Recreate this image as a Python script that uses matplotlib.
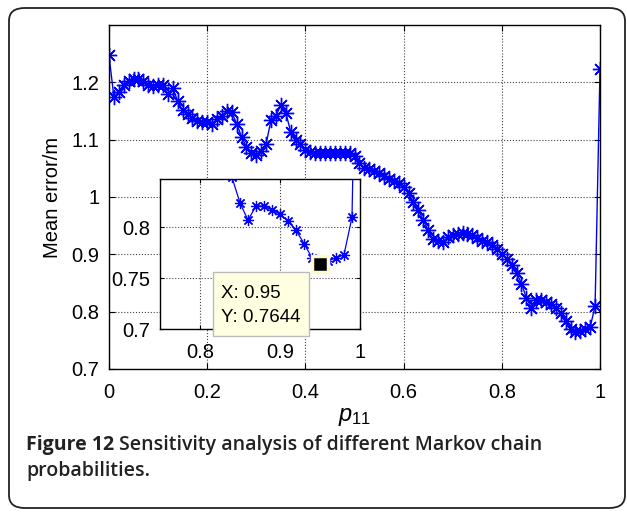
import matplotlib
matplotlib.use('Agg')
import matplotlib.pyplot as plt
from matplotlib.patches import FancyBboxPatch, Rectangle
import numpy as np

plt.rcParams['font.family'] = ['Liberation Sans', 'DejaVu Sans']
plt.rcParams['mathtext.fontset'] = 'custom'
plt.rcParams['mathtext.it'] = 'Liberation Sans:italic'
plt.rcParams['mathtext.rm'] = 'Liberation Sans'

# p11 values, step 0.01
p11 = np.round(np.arange(0, 101) * 0.01, 2)
# mean error
mean_error = [
    1.247, 1.174, 1.184, 1.196, 1.202, 1.205, 1.205, 1.202, 1.196, 1.194,
    1.195, 1.196, 1.179, 1.190, 1.167, 1.151, 1.144, 1.138, 1.132, 1.130,
    1.130, 1.128, 1.136, 1.142, 1.150, 1.148, 1.128, 1.105, 1.087, 1.076,
    1.074, 1.080, 1.093, 1.134, 1.141, 1.161, 1.147, 1.114, 1.099, 1.093,
    1.082, 1.078, 1.077, 1.077, 1.077, 1.077, 1.077, 1.077, 1.077, 1.076,
    1.071, 1.060, 1.051, 1.049, 1.045, 1.041, 1.036, 1.032, 1.028, 1.024,
    1.018, 1.007, 0.991, 0.977, 0.960, 0.942, 0.926, 0.924, 0.922, 0.930,
    0.934, 0.936, 0.937, 0.936, 0.934, 0.929, 0.924, 0.922, 0.917, 0.910,
    0.901, 0.892, 0.882, 0.868, 0.849, 0.824, 0.807, 0.821, 0.821, 0.817,
    0.813, 0.806, 0.797, 0.784, 0.770, 0.7644, 0.767, 0.770, 0.773, 0.810,
    1.223,
]

x_ticks = [0, 0.2, 0.4, 0.6, 0.8, 1]
x_labels = ['0', '0.2', '0.4', '0.6', '0.8', '1']
y_ticks = [0.7, 0.8, 0.9, 1.0, 1.1, 1.2]
y_labels = ['0.7', '0.8', '0.9', '1', '1.1', '1.2']

in_x_ticks = [0.8, 0.9, 1.0]
in_x_labels = ['0.8', '0.9', '1']
in_y_ticks = [0.7, 0.75, 0.8]
in_y_labels = ['0.7', '0.75', '0.8']

tip_x, tip_y = 0.95, 0.7644

W, H = 627, 514
fig = plt.figure(figsize=(W / 100, H / 100), dpi=100)

def fx(px):
    return px / W

def fy(py):
    return 1 - py / H

# rounded frame around figure + caption
frame = FancyBboxPatch((fx(9), fy(508)), fx(625) - fx(9), fy(8) - fy(508),
                       boxstyle='round,pad=0,rounding_size=0.025',
                       transform=fig.transFigure, fill=False,
                       edgecolor='#222222', linewidth=1.3)
fig.patches.append(frame)

# main axes
ax = fig.add_axes([fx(109), fy(369), fx(600) - fx(109), fy(25) - fy(369)])
ax.plot(p11, mean_error, color='b', linewidth=1.0, marker=(8, 2, 0),
        markersize=11, markeredgewidth=1.0)
ax.set_xlim(0, 1)
ax.set_ylim(0.7, 1.3)
ax.set_xticks(x_ticks)
ax.set_xticklabels(x_labels)
ax.set_yticks(y_ticks)
ax.set_yticklabels(y_labels)
ax.tick_params(direction='in', length=4, labelsize=14.5, top=True, right=True)
ax.tick_params(axis='x', pad=10)
ax.tick_params(axis='y', pad=7)
ax.grid(True, linestyle=':', color='#444444', linewidth=0.8)
for s in ax.spines.values():
    s.set_linewidth(1.0)
ax.set_ylabel('Mean error/m', fontsize=14.5, labelpad=7)
ax.set_xlabel('$p_{11}$', fontsize=17, labelpad=3)

# inset (zoomed view)
ins = fig.add_axes([fx(160), fy(329), fx(360) - fx(160), fy(179) - fy(329)])
ins.plot(p11, mean_error, color='b', linewidth=0.9, marker=(8, 2, 0),
         markersize=8, markeredgewidth=0.9)
ins.plot([tip_x], [tip_y], marker='s', markersize=11, color='black',
         markeredgecolor='#fffbd0', markeredgewidth=2.5, zorder=5)
ins.set_xlim(0.75, 1.0)
ins.set_ylim(0.7, 0.8475)
ins.set_xticks(in_x_ticks)
ins.set_xticklabels(in_x_labels)
ins.set_yticks(in_y_ticks)
ins.set_yticklabels(in_y_labels)
ins.tick_params(direction='in', length=3, labelsize=14.5, top=True, right=True)
ins.tick_params(axis='x', pad=10)
ins.tick_params(axis='y', pad=7)
ins.grid(True, linestyle=':', color='#444444', linewidth=0.8)
for s in ins.spines.values():
    s.set_linewidth(1.0)

# data tip
tip_box = Rectangle((fx(213), fy(336)), fx(309) - fx(213), fy(272) - fy(336),
                    transform=fig.transFigure, facecolor='#ffffe1',
                    edgecolor='#bbbbbb', linewidth=1.0, zorder=10)
fig.patches.append(tip_box)
fig.text(fx(221), fy(293), 'X: %.2f' % tip_x, fontsize=13.5, va='center', ha='left', zorder=11)
fig.text(fx(221), fy(317), 'Y: %.4f' % tip_y, fontsize=13.5, va='center', ha='left', zorder=11)

# caption
cap_font = ['Open Sans', 'DejaVu Sans']
cap_size = 14
t1 = fig.text(fx(26), fy(445), 'Figure 12', fontsize=cap_size, fontweight='bold',
              family=cap_font, va='center', ha='left', color='#222222')
fig.canvas.draw()
bb = t1.get_window_extent(renderer=fig.canvas.get_renderer())
fig.text(bb.x1 / W + fx(5), fy(445), 'Sensitivity analysis of different Markov chain',
         fontsize=cap_size, fontweight='semibold', family=cap_font, va='center', ha='left',
         color='#222222')
fig.text(fx(26), fy(471), 'probabilities.', fontsize=cap_size, fontweight='semibold',
         family=cap_font, va='center', ha='left', color='#222222')

plt.savefig('out.png', dpi=100)
